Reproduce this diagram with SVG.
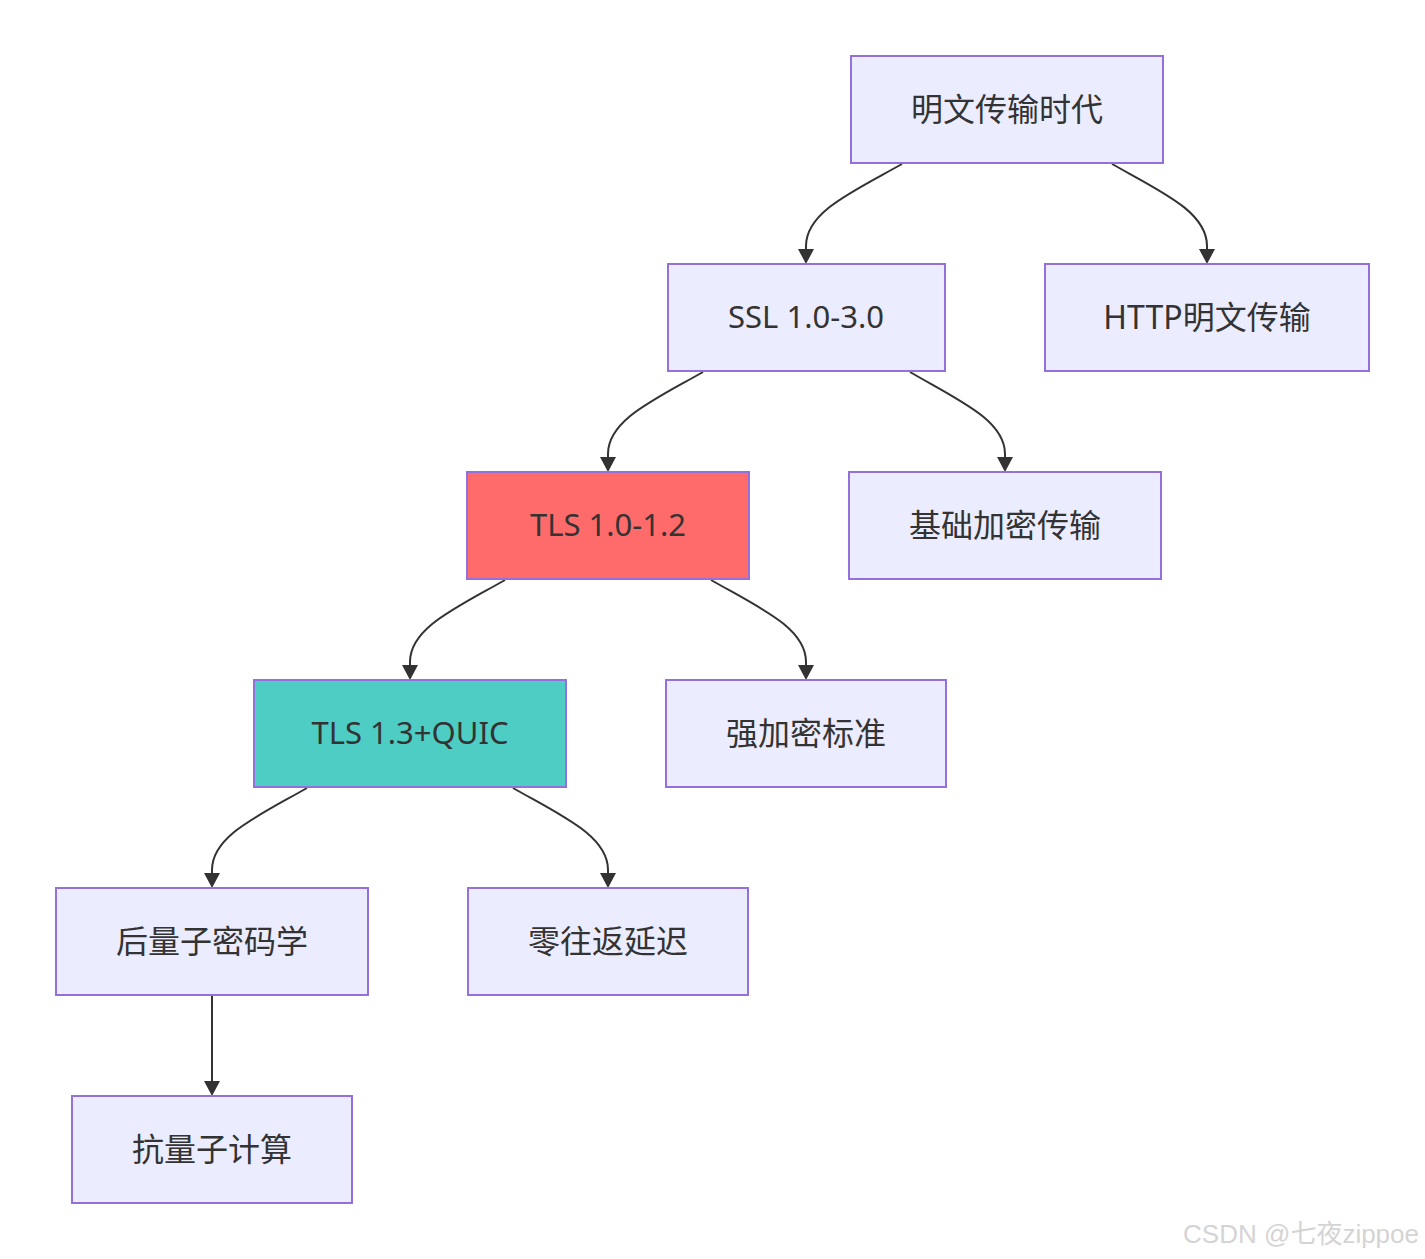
<svg xmlns="http://www.w3.org/2000/svg" width="1425" height="1259" viewBox="0 0 1425 1259">
<style>
.n rect{fill:#ECECFF;stroke:#9370DB;stroke-width:2}
.n text{font-family:"Noto Sans","Noto Sans CJK SC",sans-serif;font-size:32px;fill:#333;text-anchor:middle;dominant-baseline:central}
.n text.l{font-size:31px}
.ln{fill:none;stroke:#333;stroke-width:2}
.ah{fill:#333;stroke:none}
.wm{font-family:"Liberation Sans","Noto Sans CJK SC",sans-serif;font-size:26px;fill:#d4d4d4;text-anchor:end}
</style>
<rect width="1425" height="1259" fill="#fff"/>
<g id="connectors">
<path class="ln" d="M902,164 C852,192 806,212 806,246 L806,252"/>
<path class="ln" d="M1112,164 C1162,192 1207,212 1207,246 L1207,252"/>
<path class="ln" d="M703,372 C654,400 608,420 608,454 L608,460"/>
<path class="ln" d="M910,372 C958,400 1005,420 1005,454 L1005,460"/>
<path class="ln" d="M505,580 C456,608 410,628 410,662 L410,668"/>
<path class="ln" d="M711,580 C760,608 806,628 806,662 L806,668"/>
<path class="ln" d="M307,788 C258,816 212,836 212,870 L212,876"/>
<path class="ln" d="M513,788 C562,816 608,836 608,870 L608,876"/>
<path class="ln" d="M212,996 L212,1084"/>
<path class="ah" d="M798,249 L814,249 L806,264 Z"/>
<path class="ah" d="M1199,249 L1215,249 L1207,264 Z"/>
<path class="ah" d="M600,457 L616,457 L608,472 Z"/>
<path class="ah" d="M997,457 L1013,457 L1005,472 Z"/>
<path class="ah" d="M402,665 L418,665 L410,680 Z"/>
<path class="ah" d="M798,665 L814,665 L806,680 Z"/>
<path class="ah" d="M204,873 L220,873 L212,888 Z"/>
<path class="ah" d="M600,873 L616,873 L608,888 Z"/>
<path class="ah" d="M204,1081 L220,1081 L212,1096 Z"/>
</g>
<g class="n" id="n1"><rect x="851" y="56" width="312" height="107"/><text x="1007" y="108">明文传输时代</text></g>
<g class="n" id="n2"><rect x="668" y="264" width="277" height="107"/><text class="l" x="806" y="316">SSL 1.0-3.0</text></g>
<g class="n" id="n3"><rect x="1045" y="264" width="324" height="107"/><text x="1207" y="316">HTTP明文传输</text></g>
<g class="n" id="n4"><rect x="467" y="472" width="282" height="107" style="fill:#ff6b6b"/><text class="l" x="608" y="524">TLS 1.0-1.2</text></g>
<g class="n" id="n5"><rect x="849" y="472" width="312" height="107"/><text x="1005" y="524">基础加密传输</text></g>
<g class="n" id="n6"><rect x="254" y="680" width="312" height="107" style="fill:#4ecdc4"/><text class="l" x="410" y="732">TLS 1.3+QUIC</text></g>
<g class="n" id="n7"><rect x="666" y="680" width="280" height="107"/><text x="806" y="732">强加密标准</text></g>
<g class="n" id="n8"><rect x="56" y="888" width="312" height="107"/><text x="212" y="940">后量子密码学</text></g>
<g class="n" id="n9"><rect x="468" y="888" width="280" height="107"/><text x="608" y="940">零往返延迟</text></g>
<g class="n" id="n10"><rect x="72" y="1096" width="280" height="107"/><text x="212" y="1148">抗量子计算</text></g>
<text class="wm" x="1419" y="1243">CSDN @七夜zippoe</text>
</svg>
